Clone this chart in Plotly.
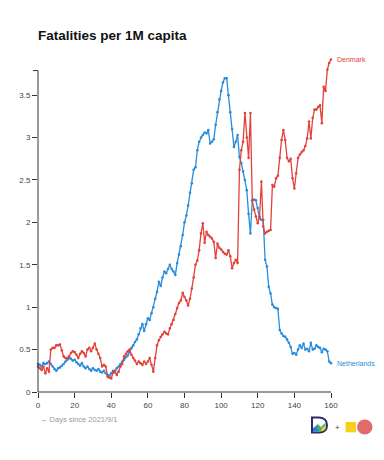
import plotly.graph_objects as go

days = list(range(161))

netherlands = [
    0.33, 0.32, 0.30, 0.34, 0.33, 0.34, 0.36, 0.33, 0.30, 0.27,
    0.25, 0.28, 0.29, 0.31, 0.33, 0.36, 0.38, 0.40, 0.39, 0.37,
    0.38, 0.35, 0.33, 0.31, 0.34, 0.30, 0.28, 0.30, 0.27, 0.25,
    0.28, 0.26, 0.25, 0.27, 0.24, 0.23, 0.25, 0.22, 0.20, 0.19,
    0.22, 0.25, 0.23, 0.28, 0.30, 0.33, 0.36, 0.38, 0.41, 0.43,
    0.47, 0.52, 0.55, 0.59, 0.62, 0.68, 0.75, 0.80, 0.72, 0.80,
    0.87, 0.85, 0.93, 1.00, 1.10, 1.18, 1.30, 1.25, 1.35, 1.42,
    1.40, 1.45, 1.50, 1.45, 1.42, 1.38, 1.52, 1.62, 1.72, 1.85,
    2.00, 2.08, 2.20, 2.35, 2.46, 2.62, 2.65, 2.85, 2.95, 3.00,
    3.03, 3.06, 3.05, 3.09, 2.93, 2.95, 2.98, 3.15, 3.30, 3.45,
    3.55, 3.65, 3.70, 3.70, 3.50, 3.30, 3.10, 2.89, 2.95, 3.03,
    2.77, 2.70, 2.60, 2.50, 2.38, 2.10, 1.87, 2.26, 2.27, 2.26,
    2.17, 2.05, 2.03, 2.03, 1.56, 1.48, 1.24, 1.16, 1.03, 1.00,
    0.99, 0.98, 0.73, 0.69, 0.66, 0.65, 0.62, 0.58, 0.53, 0.45,
    0.46, 0.44, 0.50, 0.55, 0.52, 0.57, 0.50, 0.51, 0.48, 0.58,
    0.50, 0.51, 0.55, 0.53, 0.52, 0.47, 0.51, 0.50, 0.48, 0.36,
    0.34,
]

denmark = [
    0.30, 0.28, 0.26, 0.30, 0.22, 0.28, 0.24, 0.50, 0.52, 0.52,
    0.55, 0.55, 0.56, 0.49, 0.42, 0.40, 0.40, 0.42, 0.46, 0.48,
    0.47, 0.44, 0.40, 0.45, 0.48, 0.46, 0.42, 0.50, 0.52, 0.48,
    0.52, 0.57, 0.50, 0.45, 0.40, 0.30, 0.32, 0.30, 0.18, 0.17,
    0.16, 0.23, 0.25, 0.20, 0.24, 0.30, 0.33, 0.42, 0.45, 0.48,
    0.50, 0.44, 0.40, 0.37, 0.33, 0.36, 0.34, 0.32, 0.36, 0.33,
    0.36, 0.40, 0.32, 0.24, 0.40, 0.55, 0.61, 0.65, 0.68, 0.71,
    0.69, 0.68, 0.75, 0.80, 0.85, 0.92, 0.99, 1.05, 1.08, 1.17,
    1.12, 1.08, 1.02, 1.10, 1.22, 1.35, 1.50, 1.55, 1.67, 1.87,
    1.99, 1.76, 1.89, 1.85, 1.83, 1.81, 1.77, 1.58, 1.75, 1.70,
    1.68, 1.65, 1.63, 1.62, 1.67, 1.60, 1.46, 1.52, 1.56, 1.52,
    2.62, 2.85, 2.95, 3.29, 3.00, 2.76, 3.29, 2.26, 2.15, 2.07,
    1.99, 2.07, 2.48, 1.95, 1.87, 1.89, 1.90, 1.91, 2.44, 2.42,
    2.52, 2.55, 2.76, 2.97, 3.09, 2.97, 2.76, 2.72, 2.75, 2.52,
    2.40, 2.58, 2.76, 2.80, 2.83, 2.85, 2.90, 2.99, 3.19, 2.99,
    3.23, 3.33, 3.33, 3.36, 3.38, 3.17, 3.60, 3.55, 3.80, 3.88,
    3.92,
]

x_ticks = [0, 20, 40, 60, 80, 100, 120, 140, 160]
y_ticks = [0, 0.5, 1, 1.5, 2, 2.5, 3, 3.5]
y_tick_labels = ["0", "0.5", "1", "1.5", "2", "2.5", "3", "3.5"]

RED = "#e3413a"
BLUE = "#2a8ddb"
FONT = "Liberation Sans, Arial, sans-serif"

OFF = 8  # page body margin
W, H = 384 - OFF, 460 - OFF
L, T = 38 - OFF, 57 - OFF
PW, PH = 293, 335
R, B = W - L - PW, H - T - PH
Y_MAX = 3.95
Y_AXIS_TOP = 3.79


def px(xp):
    # screen pixel x -> paper
    return (xp - OFF - L) / PW


def py(yp):
    # screen pixel y -> paper
    return (T + PH - (yp - OFF)) / PH


fig = go.Figure()
for name, vals, col in [("Netherlands", netherlands, BLUE), ("Denmark", denmark, RED)]:
    fig.add_trace(go.Scatter(
        x=days, y=vals, mode="lines+markers", name=name,
        line=dict(color=col, width=1.3),
        marker=dict(color=col, size=2.6),
        cliponaxis=False, showlegend=False,
    ))
    fig.add_annotation(
        x=days[-1], y=vals[-1], xref="x", yref="y", text=name,
        showarrow=False, xanchor="left", yanchor="middle", xshift=4,
        font=dict(family=FONT, size=7, color=col),
    )

axis_col = "#333333"
shapes = [
    dict(type="line", xref="paper", yref="paper", x0=0, x1=0, y0=0,
         y1=Y_AXIS_TOP / Y_MAX, line=dict(color=axis_col, width=1)),
    dict(type="line", xref="paper", yref="paper", x0=-5 / PW, x1=0,
         y0=Y_AXIS_TOP / Y_MAX, y1=Y_AXIS_TOP / Y_MAX, line=dict(color=axis_col, width=1)),
    dict(type="line", xref="paper", yref="paper", x0=0, x1=1, y0=0, y1=0,
         line=dict(color=axis_col, width=1)),
]

# logo (screen pixel coordinates converted to paper)
shapes += [
    dict(type="path", xref="paper", yref="paper",
         path=f"M {px(312)} {py(417.5)} L {px(319)} {py(417.5)} "
              f"Q {px(327)} {py(418)} {px(327)} {py(425)} "
              f"Q {px(327)} {py(432.5)} {px(319)} {py(432.5)} L {px(312)} {py(432.5)} Z",
         fillcolor="white", line=dict(color="#2b2a6e", width=2)),
    dict(type="path", xref="paper", yref="paper",
         path=f"M {px(313)} {py(431.5)} L {px(313)} {py(428)} L {px(318)} {py(424)} "
              f"L {px(321)} {py(427)} L {px(325.5)} {py(422.5)} L {px(325.5)} {py(429)} "
              f"Q {px(323)} {py(431.5)} {px(319)} {py(431.5)} Z",
         fillcolor="#3cb37a", line=dict(width=0)),
    dict(type="path", xref="paper", yref="paper",
         path=f"M {px(313)} {py(431.5)} L {px(313)} {py(429)} L {px(317)} {py(426)} "
              f"L {px(318.5)} {py(431.5)} Z",
         fillcolor="#2a7be4", line=dict(width=0)),
    dict(type="path", xref="paper", yref="paper",
         path=f"M {px(320.5)} {py(431.5)} L {px(322)} {py(428)} L {px(325.5)} {py(425.5)} "
              f"L {px(325.5)} {py(429)} Q {px(323)} {py(431.5)} {px(320.5)} {py(431.5)} Z",
         fillcolor="#f2d01b", line=dict(width=0)),
    dict(type="rect", xref="paper", yref="paper", x0=px(345.5), x1=px(356),
         y0=py(432.3), y1=py(422), fillcolor="#f7cf1d", line=dict(width=0)),
    dict(type="circle", xref="paper", yref="paper", x0=px(357), x1=px(372.5),
         y0=py(434.5), y1=py(419.5), fillcolor="#e26b6b", line=dict(width=0)),
]

fig.add_annotation(xref="paper", yref="paper", x=px(337.3), y=py(427.5), text="+",
                   showarrow=False, font=dict(family=FONT, size=8, color="#444"),
                   xanchor="center", yanchor="middle")
fig.add_annotation(xref="paper", yref="paper", x=px(38), y=py(419), text="→ Days since 2021/9/1",
                   showarrow=False, font=dict(family=FONT, size=7.5, color="#999999"),
                   xanchor="left", yanchor="middle")

fig.update_layout(
    width=W, height=H,
    margin=dict(l=L, r=R, t=T, b=B, pad=0),
    paper_bgcolor="white", plot_bgcolor="white",
    title=dict(text="<b>Fatalities per 1M capita</b>", x=px(38), xref="paper", xanchor="left",
               y=1 - (35 - OFF) / H, yanchor="middle",
               font=dict(family=FONT, size=13.5, color="#111111")),
    shapes=shapes,
    xaxis=dict(range=[0, 160], tickvals=x_ticks, ticks="outside", ticklen=5,
               tickcolor=axis_col, tickwidth=1, showgrid=False, zeroline=False,
               showline=False, tickfont=dict(family=FONT, size=8, color="#444"),
               fixedrange=True),
    yaxis=dict(range=[0, Y_MAX], tickvals=y_ticks, ticktext=y_tick_labels,
               ticks="outside", ticklen=5, tickcolor=axis_col, tickwidth=1,
               showgrid=False, zeroline=False, showline=False,
               tickfont=dict(family=FONT, size=8, color="#444"), fixedrange=True),
)

fig.write_html("out.html")
